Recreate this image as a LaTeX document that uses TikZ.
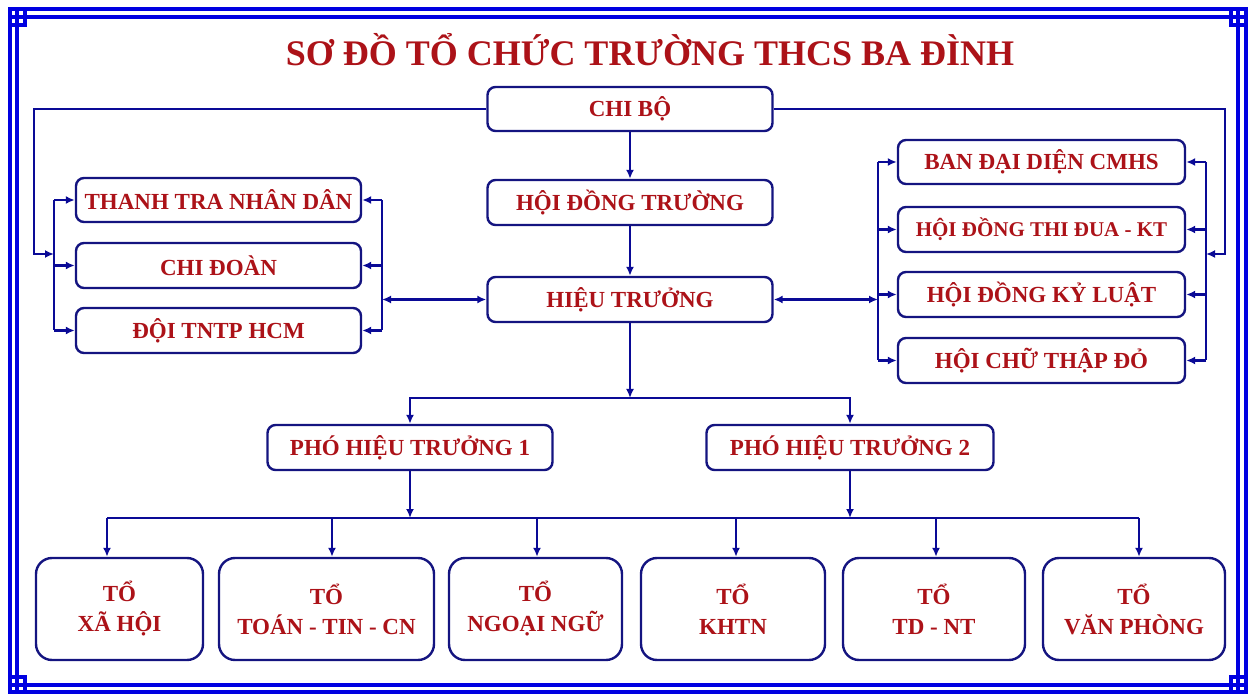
\documentclass[tikz,border=0pt]{standalone}
\usepackage{fontspec}
\setmainfont{Liberation Serif}
\usetikzlibrary{arrows.meta,positioning,calc}
\definecolor{txtred}{RGB}{172,18,24}
\definecolor{boxblue}{RGB}{20,20,128}
\definecolor{lineblue}{RGB}{10,10,150}
\definecolor{frameblue}{RGB}{0,0,225}
\tikzset{
    block/.style={
        draw=boxblue,
        line width=1.2pt,
        rectangle,
        rounded corners=4pt,
        fill=white,
        text=txtred,
        font=\bfseries\fontsize{11.5}{14}\selectfont,
        minimum height=22.5pt,
        minimum width=142.5pt,
        inner sep=1pt
    },
    tobox/.style={
        block,
        rounded corners=8pt,
        align=center,
        minimum height=51pt,
        font=\bfseries\fontsize{11.5}{15}\selectfont
    },
    wire/.style={
        draw=lineblue,
        line width=1.2pt
    },
    link/.style={
        wire,
        ->
    },
    borderline/.style={
        draw=frameblue,
        line width=2pt
    },
}

\begin{document}
\begin{tikzpicture}[x=0.5pt, y=-0.5pt, >={Latex[length=4.5pt,width=4pt]}]
    \useasboundingbox (0,0) rectangle (1254,695);

    % frame
    \draw[borderline] (10,9.5) rectangle (1246,692);
    \draw[borderline] (10,17) -- (1246,17) (10,685) -- (1246,685);
    \draw[borderline] (17,9.5) -- (17,692) (1238,9.5) -- (1238,692);
    \draw[borderline] (25,9.5) -- (25,25) -- (10,25);
    \draw[borderline] (1231,9.5) -- (1231,25) -- (1246,25);
    \draw[borderline] (25,692) -- (25,677) -- (10,677);
    \draw[borderline] (1231,692) -- (1231,677) -- (1246,677);

    % title
    \node[text=txtred, font=\bfseries\fontsize{18}{20}\selectfont] (title) at (650,50) {SƠ ĐỒ TỔ CHỨC TRƯỜNG THCS BA ĐÌNH};

    % blocks
    \node[block, minimum height=22pt] (chibo) at (630,109) {CHI BỘ};
    \node[block, below=23.3pt of chibo] (hdtruong) {HỘI ĐỒNG TRƯỜNG};
    \node[block, below=24.8pt of hdtruong] (htruong) {HIỆU TRƯỞNG};

    \node[block, minimum height=22pt] (ttnd) at (218.5,200) {THANH TRA NHÂN DÂN};
    \node[block, below=9.3pt of ttnd] (chidoan) {CHI ĐOÀN};
    \node[block, below=8.8pt of chidoan] (doitn) {ĐỘI TNTP HCM};

    \node[block, minimum width=143.5pt, minimum height=22pt] (bandd) at (1041.5,162) {BAN ĐẠI DIỆN CMHS};
    \node[block, minimum width=143.5pt, below=10.3pt of bandd, font=\bfseries\fontsize{10.5}{12}\selectfont] (hdtd) {HỘI ĐỒNG THI ĐUA - KT};
    \node[block, minimum width=143.5pt, below=8.8pt of hdtd] (hdkl) {HỘI ĐỒNG KỶ LUẬT};
    \node[block, minimum width=143.5pt, below=9.3pt of hdkl] (hctd) {HỘI CHỮ THẬP ĐỎ};

    \node[block] (pht1) at (410,447.5) {PHÓ HIỆU TRƯỞNG 1};
    \node[block, minimum width=143.5pt, right=75.8pt of pht1] (pht2) {PHÓ HIỆU TRƯỞNG 2};

    \node[tobox, minimum width=83.5pt] (xahoi) at (119.5,609) {TỔ\\XÃ HỘI};
    \node[tobox, minimum width=107.5pt] (toan) at (326.5,609) {TỔ\\TOÁN - TIN - CN};
    \node[tobox, minimum width=86.5pt] (ngoaingu) at (535.5,609) {TỔ\\NGOẠI NGỮ};
    \node[tobox, minimum width=92pt] (khtn) at (733,609) {TỔ\\KHTN};
    \node[tobox, minimum width=91pt] (tdnt) at (934,609) {TỔ\\TD - NT};
    \node[tobox, minimum width=91pt] (vanphong) at (1134,609) {TỔ\\VĂN PHÒNG};

    % bus coordinates
    \coordinate (lbusW) at (54,200);
    \coordinate (lbusE) at (382,200);
    \coordinate (rbusW) at (878,162);
    \coordinate (rbusE) at (1206,162);
    \coordinate (cbL) at (34,254);
    \coordinate (cbR) at (1225,254);
    \coordinate (hub) at (630,398);
    \coordinate (busL) at (107,518);
    \coordinate (busR) at (1139,518);

    % lines
    \draw[link] (chibo) -- (hdtruong);
    \draw[link] (hdtruong) -- (htruong);
    \draw[link] (htruong) -- (hub);
    \draw[link] (hub) -| (pht1);
    \draw[link] (hub) -| (pht2);

    \draw[link] (chibo.west) -| (cbL) -- (lbusW |- cbL);
    \draw[link] (chibo.east) -| (cbR) -- (rbusE |- cbR);

    \draw[wire] (ttnd.west -| lbusW) -- (doitn.west -| lbusW);
    \draw[wire] (ttnd.east -| lbusE) -- (doitn.east -| lbusE);
    \foreach \n in {ttnd,chidoan,doitn} {
        \draw[link] (\n.west -| lbusW) -- (\n.west);
        \draw[link] (\n.east -| lbusE) -- (\n.east);
    }
    \draw[link, <->] (htruong.west) -- (htruong.west -| lbusE);

    \draw[wire] (bandd.west -| rbusW) -- (hctd.west -| rbusW);
    \draw[wire] (bandd.east -| rbusE) -- (hctd.east -| rbusE);
    \foreach \n in {bandd,hdtd,hdkl,hctd} {
        \draw[link] (\n.west -| rbusW) -- (\n.west);
        \draw[link] (\n.east -| rbusE) -- (\n.east);
    }
    \draw[link, <->] (htruong.east) -- (htruong.east -| rbusW);

    \draw[wire] (busL) -- (busR);
    \draw[link] (pht1) -- (pht1 |- busL);
    \draw[link] (pht2) -- (pht2 |- busL);
    \foreach \n/\x in {xahoi/107, toan/332, ngoaingu/537, khtn/736, tdnt/936, vanphong/1139} {
        \coordinate (d\n) at (\x,518);
        \draw[link] (d\n) -- (\n.north -| d\n);
    }
\end{tikzpicture}
\end{document}
